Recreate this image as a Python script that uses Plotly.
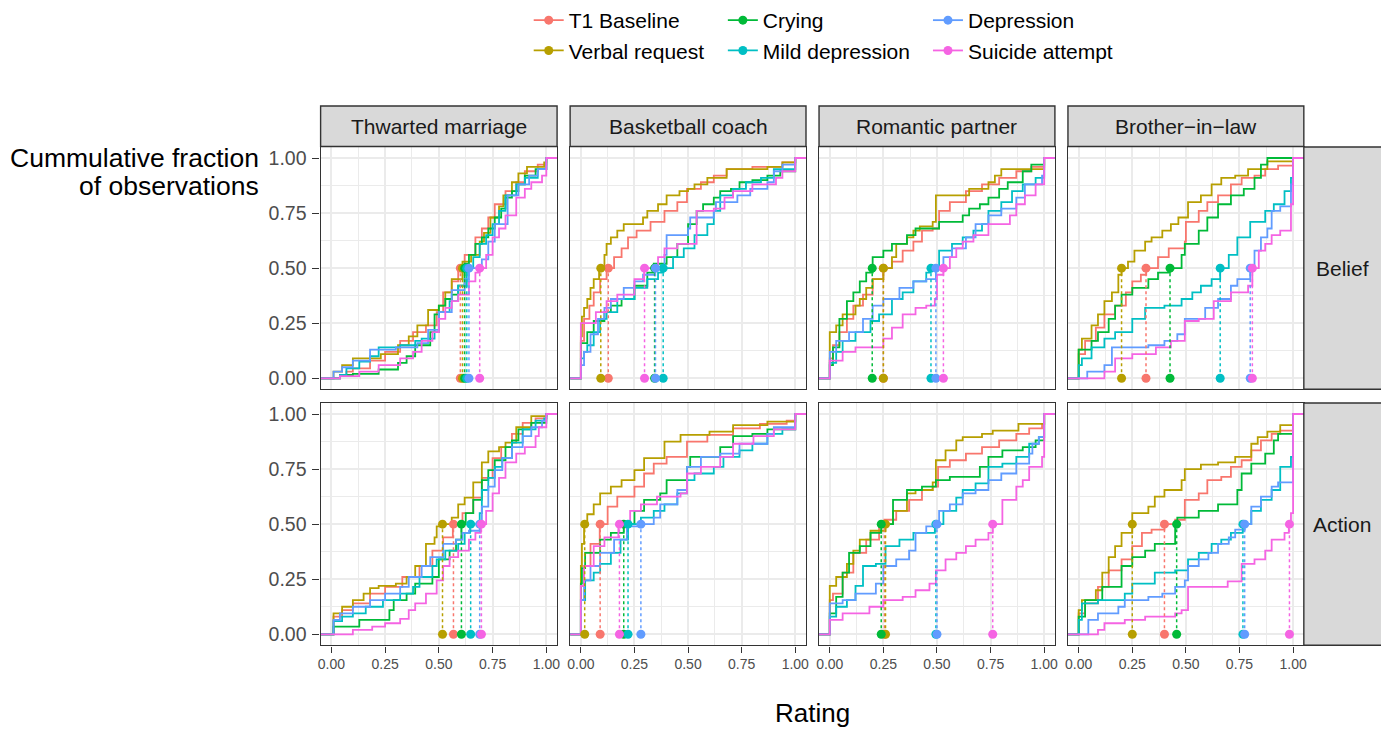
import plotly.graph_objects as go

# ---------------------------------------------------------------- data
SERIES = ["T1 Baseline", "Verbal request", "Crying", "Mild depression", "Depression", "Suicide attempt"]
COLORS = ["#F8766D", "#B79F00", "#00BA38", "#00BFC4", "#619CFF", "#F564E3"]
SCENARIOS = ["Thwarted marriage", "Basketball coach", "Romantic partner", "Brother\u2212in\u2212law"]
MEASURES = ["Belief", "Action"]
TICK_VALUES = [0, 0.25, 0.5, 0.75, 1.0]
TICK_LABELS = ["0.00", "0.25", "0.50", "0.75", "1.00"]
MINOR_VALUES = [0.125, 0.375, 0.625, 0.875]

# ECDF knots (rating, cumulative fraction)
THWARTED_BELIEF = {
    "T1 Baseline": ([0.04, 0.07, 0.10, 0.18, 0.25, 0.32, 0.38, 0.44, 0.49, 0.52, 0.56, 0.59, 0.62, 0.67, 0.70, 0.73, 0.76, 0.81, 0.86, 0.90, 0.96, 1.0],
                    [0.015, 0.03, 0.045, 0.08, 0.12, 0.17, 0.21, 0.24, 0.30, 0.39, 0.44, 0.50, 0.56, 0.64, 0.68, 0.73, 0.79, 0.85, 0.89, 0.94, 0.97, 1.0]),
    "Verbal request": ([0.01, 0.05, 0.10, 0.23, 0.31, 0.36, 0.40, 0.45, 0.50, 0.53, 0.56, 0.61, 0.65, 0.69, 0.71, 0.74, 0.78, 0.80, 0.84, 0.87, 0.91, 0.99, 1.0],
                       [0.03, 0.06, 0.09, 0.11, 0.15, 0.19, 0.24, 0.31, 0.33, 0.39, 0.45, 0.53, 0.56, 0.62, 0.66, 0.73, 0.78, 0.83, 0.89, 0.93, 0.96, 0.98, 1.0]),
    "Crying": ([0.04, 0.10, 0.22, 0.31, 0.35, 0.39, 0.46, 0.48, 0.50, 0.53, 0.56, 0.59, 0.62, 0.64, 0.67, 0.70, 0.73, 0.76, 0.79, 0.81, 0.84, 0.87, 0.90, 0.95, 1.0],
               [0.015, 0.02, 0.04, 0.07, 0.10, 0.15, 0.21, 0.29, 0.33, 0.36, 0.38, 0.42, 0.52, 0.56, 0.61, 0.64, 0.68, 0.73, 0.77, 0.82, 0.85, 0.88, 0.92, 0.95, 1.0]),
    "Mild depression": ([0.04, 0.07, 0.13, 0.18, 0.22, 0.32, 0.39, 0.42, 0.48, 0.50, 0.55, 0.59, 0.63, 0.66, 0.69, 0.72, 0.75, 0.78, 0.81, 0.86, 0.90, 0.96, 1.0],
                        [0.015, 0.045, 0.076, 0.10, 0.14, 0.15, 0.17, 0.18, 0.21, 0.30, 0.35, 0.42, 0.50, 0.55, 0.61, 0.65, 0.70, 0.76, 0.83, 0.88, 0.91, 0.95, 1.0]),
    "Depression": ([0.01, 0.05, 0.10, 0.18, 0.30, 0.40, 0.45, 0.50, 0.56, 0.62, 0.64, 0.70, 0.73, 0.76, 0.82, 0.87, 0.92, 0.96, 1.0],
                   [0.03, 0.05, 0.08, 0.13, 0.14, 0.16, 0.22, 0.30, 0.40, 0.45, 0.50, 0.54, 0.62, 0.70, 0.83, 0.88, 0.92, 0.95, 1.0]),
    "Suicide attempt": ([0.04, 0.13, 0.22, 0.32, 0.38, 0.42, 0.47, 0.50, 0.53, 0.56, 0.59, 0.64, 0.67, 0.69, 0.72, 0.75, 0.78, 0.81, 0.86, 0.90, 0.93, 0.98, 1.0],
                        [0.01, 0.03, 0.06, 0.09, 0.12, 0.17, 0.21, 0.27, 0.32, 0.35, 0.38, 0.44, 0.48, 0.50, 0.56, 0.64, 0.68, 0.74, 0.82, 0.86, 0.89, 0.92, 1.0]),
}
THWARTED_BELIEF_MEDIANS = [0.60, 0.61, 0.62, 0.63, 0.64, 0.69]

BASKETBALL_BELIEF = {
    "T1 Baseline": ([0, 0.015, 0.04, 0.06, 0.09, 0.12, 0.155, 0.19, 0.22, 0.26, 0.325, 0.39, 0.45, 0.495, 0.56, 0.62, 0.68, 0.80, 0.94, 1.0],
                    [0.17, 0.27, 0.33, 0.39, 0.45, 0.50, 0.55, 0.59, 0.64, 0.67, 0.71, 0.76, 0.80, 0.86, 0.89, 0.92, 0.95, 0.96, 0.98, 1.0]),
    "Verbal request": ([0, 0.005, 0.015, 0.03, 0.045, 0.06, 0.085, 0.11, 0.12, 0.14, 0.17, 0.20, 0.29, 0.31, 0.36, 0.40, 0.46, 0.50, 0.53, 0.59, 0.68, 0.87, 0.94, 1.0],
                       [0.19, 0.28, 0.32, 0.36, 0.41, 0.45, 0.50, 0.56, 0.61, 0.64, 0.67, 0.70, 0.73, 0.76, 0.79, 0.83, 0.85, 0.86, 0.88, 0.91, 0.95, 0.96, 0.98, 1.0]),
    "Crying": ([0, 0.03, 0.06, 0.11, 0.14, 0.19, 0.25, 0.31, 0.34, 0.40, 0.45, 0.50, 0.54, 0.57, 0.62, 0.65, 0.70, 0.74, 0.80, 0.87, 0.93, 1.0],
               [0.16, 0.21, 0.26, 0.30, 0.33, 0.36, 0.42, 0.48, 0.52, 0.55, 0.61, 0.70, 0.76, 0.79, 0.82, 0.85, 0.86, 0.89, 0.90, 0.92, 0.94, 1.0]),
    "Mild depression": ([0, 0.015, 0.03, 0.06, 0.09, 0.12, 0.17, 0.25, 0.31, 0.36, 0.385, 0.43, 0.48, 0.53, 0.59, 0.62, 0.65, 0.71, 0.77, 0.84, 0.90, 1.0],
                        [0.09, 0.12, 0.15, 0.21, 0.27, 0.30, 0.36, 0.41, 0.45, 0.48, 0.50, 0.55, 0.59, 0.65, 0.70, 0.76, 0.83, 0.86, 0.89, 0.91, 0.95, 1.0]),
    "Depression": ([0, 0.015, 0.045, 0.08, 0.11, 0.14, 0.20, 0.25, 0.29, 0.345, 0.39, 0.40, 0.50, 0.51, 0.62, 0.63, 0.73, 0.79, 0.87, 0.90, 0.94, 1.0],
                   [0.06, 0.12, 0.20, 0.27, 0.32, 0.36, 0.41, 0.44, 0.47, 0.50, 0.56, 0.65, 0.68, 0.73, 0.76, 0.80, 0.83, 0.86, 0.89, 0.94, 0.97, 1.0]),
    "Suicide attempt": ([0, 0.07, 0.12, 0.17, 0.25, 0.295, 0.36, 0.39, 0.45, 0.54, 0.62, 0.67, 0.71, 0.80, 0.91, 0.94, 1.0],
                        [0.25, 0.30, 0.35, 0.38, 0.45, 0.50, 0.55, 0.59, 0.61, 0.76, 0.77, 0.82, 0.85, 0.88, 0.91, 0.94, 1.0]),
}
BASKETBALL_BELIEF_MEDIANS = [0.128, 0.093, 0.344, 0.384, 0.348, 0.297]

ROMANTIC_BELIEF = {
    "T1 Baseline": ([0, 0.015, 0.045, 0.08, 0.11, 0.155, 0.20, 0.25, 0.29, 0.34, 0.39, 0.43, 0.48, 0.51, 0.56, 0.635, 0.71, 0.79, 0.87, 0.94, 1.0],
                    [0.09, 0.15, 0.21, 0.27, 0.33, 0.38, 0.45, 0.50, 0.53, 0.58, 0.62, 0.67, 0.68, 0.76, 0.80, 0.85, 0.88, 0.91, 0.94, 0.96, 1.0]),
    "Verbal request": ([0, 0.03, 0.06, 0.12, 0.14, 0.17, 0.20, 0.25, 0.29, 0.31, 0.36, 0.39, 0.42, 0.48, 0.495, 0.65, 0.74, 0.77, 0.80, 1.0],
                       [0.21, 0.24, 0.29, 0.33, 0.36, 0.41, 0.45, 0.50, 0.55, 0.61, 0.64, 0.67, 0.69, 0.71, 0.83, 0.86, 0.89, 0.92, 0.95, 1.0]),
    "Crying": ([0, 0.015, 0.045, 0.08, 0.11, 0.14, 0.17, 0.20, 0.25, 0.29, 0.36, 0.40, 0.51, 0.62, 0.65, 0.70, 0.74, 0.79, 0.83, 0.90, 0.94, 1.0],
               [0.06, 0.14, 0.27, 0.35, 0.39, 0.44, 0.48, 0.55, 0.58, 0.61, 0.65, 0.68, 0.71, 0.74, 0.77, 0.79, 0.82, 0.86, 0.89, 0.94, 0.97, 1.0]),
    "Mild depression": ([0, 0.03, 0.06, 0.12, 0.19, 0.23, 0.29, 0.34, 0.39, 0.45, 0.47, 0.51, 0.57, 0.62, 0.67, 0.71, 0.74, 0.80, 0.85, 0.90, 0.96, 1.0],
                        [0.07, 0.12, 0.17, 0.21, 0.26, 0.29, 0.36, 0.39, 0.44, 0.48, 0.50, 0.58, 0.61, 0.64, 0.67, 0.70, 0.76, 0.80, 0.85, 0.88, 0.91, 1.0]),
    "Depression": ([0, 0.03, 0.09, 0.155, 0.20, 0.25, 0.325, 0.39, 0.45, 0.495, 0.53, 0.57, 0.635, 0.68, 0.74, 0.80, 0.87, 0.91, 0.99, 1.0],
                   [0.12, 0.17, 0.21, 0.27, 0.33, 0.36, 0.41, 0.44, 0.45, 0.50, 0.55, 0.59, 0.64, 0.70, 0.74, 0.77, 0.82, 0.88, 0.92, 1.0]),
    "Suicide attempt": ([0, 0.06, 0.12, 0.25, 0.29, 0.34, 0.40, 0.45, 0.49, 0.50, 0.53, 0.56, 0.59, 0.62, 0.67, 0.74, 0.84, 0.87, 0.91, 0.96, 1.0],
                        [0.08, 0.12, 0.14, 0.18, 0.23, 0.29, 0.32, 0.33, 0.36, 0.47, 0.50, 0.55, 0.59, 0.62, 0.65, 0.70, 0.74, 0.79, 0.83, 0.88, 1.0]),
}
ROMANTIC_BELIEF_MEDIANS = [0.25, 0.25, 0.198, 0.472, 0.495, 0.53]

BROTHER_BELIEF = {
    "T1 Baseline": ([0, 0.03, 0.08, 0.12, 0.17, 0.22, 0.25, 0.29, 0.315, 0.37, 0.42, 0.495, 0.50, 0.56, 0.60, 0.65, 0.71, 0.76, 0.82, 0.87, 0.93, 1.0],
                    [0.11, 0.17, 0.23, 0.29, 0.33, 0.39, 0.44, 0.47, 0.50, 0.55, 0.59, 0.62, 0.71, 0.76, 0.80, 0.83, 0.88, 0.91, 0.92, 0.95, 0.965, 1.0]),
    "Verbal request": ([0, 0.015, 0.06, 0.09, 0.12, 0.155, 0.185, 0.20, 0.23, 0.26, 0.31, 0.34, 0.39, 0.43, 0.465, 0.51, 0.57, 0.62, 0.665, 0.73, 0.79, 0.88, 1.0],
                       [0.13, 0.18, 0.24, 0.29, 0.35, 0.39, 0.47, 0.50, 0.53, 0.58, 0.62, 0.64, 0.67, 0.70, 0.73, 0.80, 0.83, 0.88, 0.91, 0.92, 0.95, 0.985, 1.0]),
    "Crying": ([0, 0.06, 0.09, 0.14, 0.17, 0.20, 0.25, 0.325, 0.37, 0.425, 0.48, 0.495, 0.56, 0.60, 0.65, 0.71, 0.77, 0.82, 0.85, 0.88],
               [0.13, 0.17, 0.21, 0.27, 0.33, 0.38, 0.41, 0.45, 0.48, 0.50, 0.56, 0.61, 0.67, 0.73, 0.79, 0.83, 0.86, 0.91, 0.97, 1.0]),
    "Mild depression": ([0, 0.015, 0.06, 0.12, 0.17, 0.25, 0.31, 0.40, 0.48, 0.53, 0.57, 0.62, 0.66, 0.70, 0.74, 0.80, 0.87, 0.91, 0.96, 0.99, 1.0],
                        [0.06, 0.09, 0.14, 0.18, 0.21, 0.27, 0.32, 0.33, 0.36, 0.39, 0.42, 0.45, 0.50, 0.56, 0.64, 0.71, 0.76, 0.79, 0.85, 0.91, 1.0]),
    "Depression": ([0.04, 0.12, 0.155, 0.325, 0.40, 0.46, 0.495, 0.59, 0.65, 0.71, 0.74, 0.80, 0.82, 0.85, 0.88, 0.90, 0.94, 0.99, 1.0],
                   [0.03, 0.06, 0.14, 0.15, 0.17, 0.20, 0.27, 0.32, 0.36, 0.42, 0.45, 0.50, 0.58, 0.64, 0.68, 0.76, 0.78, 0.88, 1.0]),
    "Suicide attempt": ([0.12, 0.17, 0.25, 0.36, 0.43, 0.495, 0.56, 0.63, 0.71, 0.79, 0.81, 0.84, 0.87, 0.90, 0.94, 0.99, 1.0],
                        [0.03, 0.09, 0.11, 0.14, 0.17, 0.26, 0.27, 0.35, 0.39, 0.42, 0.50, 0.58, 0.61, 0.65, 0.67, 0.79, 1.0]),
}
BROTHER_BELIEF_MEDIANS = [0.314, 0.20, 0.426, 0.66, 0.80, 0.81]

THWARTED_ACTION = {
    "T1 Baseline": ([0.01, 0.05, 0.10, 0.18, 0.25, 0.33, 0.41, 0.47, 0.52, 0.565, 0.61, 0.66, 0.70, 0.75, 0.79, 0.84, 0.89, 0.95, 1.0],
                    [0.08, 0.11, 0.14, 0.185, 0.215, 0.26, 0.31, 0.38, 0.44, 0.50, 0.55, 0.62, 0.71, 0.80, 0.85, 0.91, 0.96, 0.98, 1.0]),
    "Verbal request": ([0.01, 0.05, 0.10, 0.15, 0.18, 0.22, 0.30, 0.35, 0.39, 0.44, 0.48, 0.49, 0.515, 0.56, 0.59, 0.62, 0.66, 0.70, 0.73, 0.78, 0.81, 0.86, 0.93, 1.0],
                       [0.095, 0.125, 0.155, 0.185, 0.21, 0.22, 0.23, 0.26, 0.31, 0.41, 0.44, 0.49, 0.50, 0.53, 0.59, 0.62, 0.69, 0.78, 0.83, 0.85, 0.87, 0.94, 0.99, 1.0]),
    "Crying": ([0.01, 0.13, 0.27, 0.29, 0.35, 0.39, 0.47, 0.50, 0.55, 0.58, 0.605, 0.625, 0.66, 0.70, 0.73, 0.76, 0.81, 0.84, 0.87, 0.93, 1.0],
               [0.035, 0.065, 0.11, 0.155, 0.185, 0.23, 0.26, 0.34, 0.38, 0.43, 0.50, 0.55, 0.61, 0.70, 0.745, 0.79, 0.85, 0.88, 0.93, 0.96, 1.0]),
    "Mild depression": ([0.01, 0.05, 0.10, 0.16, 0.24, 0.32, 0.38, 0.41, 0.47, 0.49, 0.53, 0.59, 0.62, 0.645, 0.69, 0.70, 0.73, 0.76, 0.795, 0.84, 0.89, 0.95, 0.99, 1.0],
                        [0.06, 0.08, 0.095, 0.125, 0.155, 0.185, 0.215, 0.26, 0.31, 0.34, 0.38, 0.41, 0.46, 0.50, 0.55, 0.655, 0.71, 0.76, 0.80, 0.87, 0.93, 0.97, 0.98, 1.0]),
    "Depression": ([0.01, 0.04, 0.10, 0.18, 0.25, 0.32, 0.36, 0.42, 0.46, 0.52, 0.58, 0.61, 0.64, 0.69, 0.70, 0.73, 0.76, 0.795, 0.84, 0.89, 0.93, 0.98, 1.0],
                   [0.065, 0.095, 0.125, 0.155, 0.185, 0.215, 0.26, 0.31, 0.35, 0.41, 0.43, 0.46, 0.47, 0.50, 0.58, 0.67, 0.745, 0.80, 0.85, 0.90, 0.94, 0.97, 1.0]),
    "Suicide attempt": ([0.10, 0.19, 0.25, 0.32, 0.36, 0.39, 0.44, 0.49, 0.52, 0.55, 0.59, 0.64, 0.67, 0.695, 0.72, 0.75, 0.78, 0.81, 0.86, 0.90, 0.95, 0.965, 1.0],
                        [0.02, 0.035, 0.05, 0.07, 0.11, 0.14, 0.185, 0.245, 0.31, 0.35, 0.38, 0.43, 0.46, 0.50, 0.56, 0.64, 0.71, 0.78, 0.82, 0.85, 0.90, 0.94, 1.0]),
}
THWARTED_ACTION_MEDIANS = [0.568, 0.517, 0.605, 0.648, 0.69, 0.698]

BASKETBALL_ACTION = {
    "T1 Baseline": ([0, 0.015, 0.045, 0.088, 0.125, 0.17, 0.25, 0.295, 0.34, 0.40, 0.495, 0.59, 0.71, 0.835, 0.96, 1.0],
                    [0.22, 0.31, 0.41, 0.50, 0.58, 0.625, 0.67, 0.73, 0.775, 0.805, 0.875, 0.905, 0.935, 0.955, 0.97, 1.0]),
    "Verbal request": ([0, 0.005, 0.015, 0.03, 0.06, 0.09, 0.14, 0.19, 0.25, 0.295, 0.39, 0.465, 0.60, 0.71, 0.87, 1.0],
                       [0.31, 0.41, 0.50, 0.545, 0.59, 0.64, 0.67, 0.70, 0.745, 0.80, 0.875, 0.905, 0.92, 0.95, 0.965, 1.0]),
    "Crying": ([0, 0.005, 0.02, 0.09, 0.14, 0.20, 0.25, 0.295, 0.37, 0.40, 0.495, 0.51, 0.65, 0.71, 0.80, 0.87, 1.0],
               [0.23, 0.30, 0.37, 0.43, 0.46, 0.50, 0.56, 0.61, 0.64, 0.70, 0.76, 0.805, 0.85, 0.90, 0.91, 0.93, 1.0]),
    "Mild depression": ([0, 0.02, 0.06, 0.09, 0.14, 0.185, 0.22, 0.28, 0.34, 0.39, 0.45, 0.495, 0.53, 0.62, 0.665, 0.74, 0.80, 0.87, 0.94, 1.0],
                        [0.155, 0.245, 0.28, 0.32, 0.37, 0.43, 0.50, 0.53, 0.56, 0.59, 0.64, 0.70, 0.73, 0.76, 0.805, 0.835, 0.865, 0.91, 0.93, 1.0]),
    "Depression": ([0, 0.015, 0.045, 0.09, 0.155, 0.215, 0.28, 0.34, 0.37, 0.45, 0.495, 0.56, 0.65, 0.74, 0.87, 0.90, 1.0],
                   [0.155, 0.245, 0.31, 0.37, 0.43, 0.49, 0.50, 0.53, 0.59, 0.655, 0.76, 0.805, 0.82, 0.865, 0.91, 0.94, 1.0]),
    "Suicide attempt": ([0, 0.015, 0.06, 0.11, 0.175, 0.23, 0.28, 0.355, 0.465, 0.495, 0.56, 0.65, 0.71, 0.805, 0.90, 1.0],
                        [0.22, 0.31, 0.40, 0.44, 0.50, 0.56, 0.59, 0.625, 0.64, 0.73, 0.76, 0.805, 0.865, 0.90, 0.93, 1.0]),
}
BASKETBALL_ACTION_MEDIANS = [0.09, 0.018, 0.20, 0.22, 0.28, 0.18]

ROMANTIC_ACTION = {
    "T1 Baseline": ([0, 0.015, 0.06, 0.11, 0.17, 0.23, 0.255, 0.31, 0.37, 0.43, 0.48, 0.505, 0.56, 0.635, 0.71, 0.79, 0.87, 0.93, 0.99, 1.0],
                    [0.155, 0.185, 0.28, 0.37, 0.43, 0.49, 0.52, 0.56, 0.61, 0.655, 0.67, 0.76, 0.79, 0.82, 0.85, 0.88, 0.91, 0.935, 0.955, 1.0]),
    "Verbal request": ([0, 0.03, 0.08, 0.11, 0.14, 0.19, 0.26, 0.295, 0.36, 0.40, 0.48, 0.495, 0.54, 0.59, 0.62, 0.71, 0.76, 0.88, 1.0],
                       [0.22, 0.26, 0.32, 0.38, 0.43, 0.47, 0.50, 0.56, 0.64, 0.655, 0.69, 0.79, 0.835, 0.88, 0.895, 0.91, 0.925, 0.955, 1.0]),
    "Crying": ([0, 0.03, 0.06, 0.09, 0.14, 0.19, 0.24, 0.295, 0.36, 0.43, 0.495, 0.56, 0.70, 0.74, 0.805, 0.90, 0.96, 1.0],
               [0.095, 0.17, 0.28, 0.37, 0.40, 0.46, 0.50, 0.61, 0.655, 0.67, 0.70, 0.715, 0.76, 0.805, 0.835, 0.85, 0.88, 1.0]),
    "Mild depression": ([0, 0.03, 0.08, 0.12, 0.155, 0.215, 0.26, 0.325, 0.39, 0.49, 0.53, 0.59, 0.62, 0.68, 0.74, 0.805, 0.87, 0.93, 0.975, 1.0],
                        [0.08, 0.125, 0.155, 0.22, 0.31, 0.32, 0.40, 0.43, 0.46, 0.50, 0.56, 0.62, 0.655, 0.685, 0.76, 0.775, 0.805, 0.865, 0.895, 1.0]),
    "Depression": ([0, 0.06, 0.12, 0.215, 0.25, 0.31, 0.37, 0.40, 0.45, 0.495, 0.51, 0.56, 0.62, 0.68, 0.74, 0.80, 0.87, 0.93, 0.945, 0.975, 1.0],
                   [0.14, 0.155, 0.185, 0.23, 0.31, 0.34, 0.38, 0.46, 0.49, 0.50, 0.56, 0.59, 0.64, 0.655, 0.70, 0.73, 0.775, 0.82, 0.865, 0.895, 1.0]),
    "Suicide attempt": ([0, 0.06, 0.185, 0.25, 0.34, 0.40, 0.465, 0.495, 0.54, 0.59, 0.635, 0.68, 0.74, 0.76, 0.805, 0.87, 0.90, 0.93, 0.99, 1.0],
                        [0.065, 0.095, 0.125, 0.155, 0.17, 0.20, 0.23, 0.29, 0.34, 0.37, 0.40, 0.43, 0.46, 0.50, 0.61, 0.67, 0.70, 0.76, 0.805, 1.0]),
}
ROMANTIC_ACTION_MEDIANS = [0.255, 0.26, 0.24, 0.495, 0.50, 0.76]

BROTHER_ACTION = {
    "T1 Baseline": ([0, 0.03, 0.09, 0.14, 0.20, 0.25, 0.295, 0.34, 0.40, 0.45, 0.495, 0.56, 0.60, 0.665, 0.71, 0.76, 0.805, 0.85, 0.90, 0.94, 1.0],
                    [0.095, 0.14, 0.215, 0.29, 0.34, 0.40, 0.46, 0.475, 0.50, 0.52, 0.61, 0.64, 0.70, 0.715, 0.76, 0.79, 0.835, 0.88, 0.91, 0.925, 1.0]),
    "Verbal request": ([0, 0.015, 0.08, 0.11, 0.14, 0.17, 0.20, 0.25, 0.325, 0.355, 0.40, 0.48, 0.495, 0.57, 0.65, 0.73, 0.805, 0.835, 0.88, 0.94, 1.0],
                       [0.11, 0.155, 0.20, 0.28, 0.35, 0.40, 0.46, 0.55, 0.58, 0.625, 0.655, 0.70, 0.75, 0.77, 0.78, 0.805, 0.865, 0.895, 0.92, 0.95, 1.0]),
    "Crying": ([0, 0.03, 0.11, 0.20, 0.25, 0.31, 0.355, 0.45, 0.46, 0.56, 0.65, 0.74, 0.76, 0.805, 0.87, 0.91, 0.93, 1.0],
               [0.08, 0.155, 0.215, 0.31, 0.35, 0.38, 0.41, 0.49, 0.53, 0.56, 0.59, 0.655, 0.73, 0.775, 0.82, 0.88, 0.91, 1.0]),
    "Mild depression": ([0, 0.015, 0.09, 0.215, 0.25, 0.355, 0.45, 0.51, 0.56, 0.62, 0.665, 0.71, 0.765, 0.805, 0.85, 0.90, 0.94, 0.99, 1.0],
                        [0.065, 0.14, 0.155, 0.185, 0.23, 0.28, 0.29, 0.34, 0.37, 0.41, 0.43, 0.46, 0.50, 0.56, 0.61, 0.655, 0.76, 0.805, 1.0]),
    "Depression": ([0.045, 0.09, 0.185, 0.215, 0.325, 0.39, 0.45, 0.495, 0.51, 0.56, 0.605, 0.65, 0.70, 0.73, 0.775, 0.805, 0.85, 0.90, 0.93, 1.0],
                   [0.065, 0.095, 0.125, 0.155, 0.17, 0.185, 0.215, 0.245, 0.31, 0.34, 0.37, 0.41, 0.44, 0.475, 0.50, 0.58, 0.625, 0.67, 0.69, 1.0]),
    "Suicide attempt": ([0.09, 0.12, 0.215, 0.31, 0.45, 0.48, 0.51, 0.695, 0.76, 0.82, 0.87, 0.90, 0.96, 0.98, 0.99, 1.0],
                        [0.02, 0.05, 0.065, 0.08, 0.095, 0.11, 0.215, 0.24, 0.32, 0.34, 0.38, 0.43, 0.46, 0.50, 0.55, 1.0]),
}
BROTHER_ACTION_MEDIANS = [0.40, 0.25, 0.457, 0.766, 0.774, 0.983]

PANELS = {
    ("Belief", 0): (THWARTED_BELIEF, THWARTED_BELIEF_MEDIANS),
    ("Belief", 1): (BASKETBALL_BELIEF, BASKETBALL_BELIEF_MEDIANS),
    ("Belief", 2): (ROMANTIC_BELIEF, ROMANTIC_BELIEF_MEDIANS),
    ("Belief", 3): (BROTHER_BELIEF, BROTHER_BELIEF_MEDIANS),
    ("Action", 0): (THWARTED_ACTION, THWARTED_ACTION_MEDIANS),
    ("Action", 1): (BASKETBALL_ACTION, BASKETBALL_ACTION_MEDIANS),
    ("Action", 2): (ROMANTIC_ACTION, ROMANTIC_ACTION_MEDIANS),
    ("Action", 3): (BROTHER_ACTION, BROTHER_ACTION_MEDIANS),
}

# ---------------------------------------------------------------- layout geometry (pixels)
W, H = 1381, 729
COL_PX = [(319, 556.5), (569.6, 806.5), (819.6, 1056.5), (1069.6, 1306.5)]
ROW_PX = [(147, 389.3), (403, 645.3)]
STRIP_TOP = (106, 146.5)
STRIP_RIGHT = (1306.5, 1381)
XR = [-0.05, 1.05]
YR = [-0.05, 1.05]
FONT = "Liberation Sans, Arial, Helvetica, sans-serif"
BORDER = "#333333"
GRID = "#EBEBEB"


def px_x(p):
    return p / W


def px_y(p):
    return 1 - p / H


fig = go.Figure()
layout = dict(
    width=W, height=H, autosize=False,
    margin=dict(l=0, r=0, t=0, b=0),
    paper_bgcolor="white", plot_bgcolor="white",
    font=dict(family=FONT, color="black"),
    showlegend=True,
)

for r, measure in enumerate(MEASURES):
    for c in range(len(SCENARIOS)):
        k = r * 4 + c + 1
        xname = "x" if k == 1 else f"x{k}"
        yname = "y" if k == 1 else f"y{k}"
        bottom = r == len(MEASURES) - 1
        left = c == 0
        layout["xaxis" if k == 1 else f"xaxis{k}"] = dict(
            domain=[px_x(COL_PX[c][0]), px_x(COL_PX[c][1])], anchor=yname,
            range=XR, tickmode="array", tickvals=TICK_VALUES, ticktext=TICK_LABELS,
            showticklabels=bottom, ticks="outside" if bottom else "", ticklen=6, tickwidth=1.3,
            tickcolor=BORDER, tickfont=dict(size=14, color="#4D4D4D", family=FONT),
            showgrid=True, gridcolor=GRID, gridwidth=1.8,
            minor=dict(tickmode="array", tickvals=MINOR_VALUES, showgrid=True, gridcolor=GRID, gridwidth=0.9, ticks=""),
            zeroline=False, showline=True, mirror=True, linecolor=BORDER, linewidth=1.4,
            fixedrange=True,
        )
        layout["yaxis" if k == 1 else f"yaxis{k}"] = dict(
            domain=[px_y(ROW_PX[r][1]), px_y(ROW_PX[r][0])], anchor=xname,
            range=YR, tickmode="array", tickvals=TICK_VALUES, ticktext=TICK_LABELS,
            showticklabels=left, ticks="outside" if left else "", ticklen=7, tickwidth=1.3,
            tickcolor=BORDER, tickfont=dict(size=19.5, color="#4D4D4D", family=FONT),
            ticklabelstandoff=2,
            showgrid=True, gridcolor=GRID, gridwidth=1.8,
            minor=dict(tickmode="array", tickvals=MINOR_VALUES, showgrid=True, gridcolor=GRID, gridwidth=0.9, ticks=""),
            zeroline=False, showline=True, mirror=True, linecolor=BORDER, linewidth=1.4,
            fixedrange=True,
        )

        data, medians = PANELS[(measure, c)]
        # ECDF step curves, padded to the panel edges like stat_ecdf(pad = TRUE)
        for s, name in enumerate(SERIES):
            xs, ys = data[name]
            fig.add_trace(go.Scatter(
                x=[XR[0]] + list(xs) + [XR[1]], y=[0] + list(ys) + [ys[-1]],
                mode="lines", line=dict(color=COLORS[s], width=1.8, shape="hv"),
                xaxis=xname, yaxis=yname, showlegend=False, hoverinfo="skip",
            ))
        # dotted median drop lines
        for s, name in enumerate(SERIES):
            fig.add_trace(go.Scatter(
                x=[medians[s], medians[s]], y=[0, 0.5], mode="lines",
                line=dict(color=COLORS[s], width=1.5, dash="dot"),
                xaxis=xname, yaxis=yname, showlegend=False, hoverinfo="skip",
            ))
        # median points
        for s, name in enumerate(SERIES):
            fig.add_trace(go.Scatter(
                x=[medians[s], medians[s]], y=[0, 0.5], mode="markers",
                marker=dict(color=COLORS[s], size=9),
                xaxis=xname, yaxis=yname, showlegend=False, hoverinfo="skip",
            ))

# legend entries (three columns of two, filled column-wise)
LEGEND_COLS = ["legend", "legend2", "legend3"]
LEGEND_TEXT_X = [570, 765, 971]
for s, name in enumerate(SERIES):
    fig.add_trace(go.Scatter(
        x=[None], y=[None], mode="lines+markers", name=name,
        line=dict(color=COLORS[s], width=1.8), marker=dict(color=COLORS[s], size=9),
        legend=LEGEND_COLS[s // 2], legendgroup=name, xaxis="x", yaxis="y",
    ))
for i, lg in enumerate(LEGEND_COLS):
    layout[lg] = dict(
        x=px_x(LEGEND_TEXT_X[i] - 42), y=px_y(0), xanchor="left", yanchor="top",
        orientation="v", bgcolor="rgba(0,0,0,0)", borderwidth=0,
        font=dict(size=21, family=FONT, color="black"), tracegroupgap=0,
        itemwidth=30,
    )

# facet strips
shapes = []
annotations = []
for c, scen in enumerate(SCENARIOS):
    shapes.append(dict(type="rect", xref="paper", yref="paper",
                       x0=px_x(COL_PX[c][0]), x1=px_x(COL_PX[c][1]),
                       y0=px_y(STRIP_TOP[1]), y1=px_y(STRIP_TOP[0]),
                       fillcolor="#D9D9D9", line=dict(color=BORDER, width=1.4)))
    annotations.append(dict(text=scen, xref="paper", yref="paper",
                            x=px_x((COL_PX[c][0] + COL_PX[c][1]) / 2), y=px_y((STRIP_TOP[0] + STRIP_TOP[1]) / 2),
                            xanchor="center", yanchor="middle", showarrow=False,
                            font=dict(size=21, color="#1A1A1A", family=FONT)))
for r, measure in enumerate(MEASURES):
    shapes.append(dict(type="rect", xref="paper", yref="paper",
                       x0=px_x(STRIP_RIGHT[0]), x1=px_x(STRIP_RIGHT[1]) + 0.01,
                       y0=px_y(ROW_PX[r][1]), y1=px_y(ROW_PX[r][0]),
                       fillcolor="#D9D9D9", line=dict(color=BORDER, width=1.4)))
    annotations.append(dict(text=measure, xref="paper", yref="paper",
                            x=px_x(1345), y=px_y((ROW_PX[r][0] + ROW_PX[r][1]) / 2),
                            xanchor="center", yanchor="middle", showarrow=False,
                            font=dict(size=21, color="#1A1A1A", family=FONT)))

# axis titles
annotations.append(dict(text="Cummulative fraction", xref="paper", yref="paper",
                        x=px_x(259), y=px_y(158), xanchor="right", yanchor="middle",
                        showarrow=False, font=dict(size=26.5, color="black", family=FONT)))
annotations.append(dict(text="of observations", xref="paper", yref="paper",
                        x=px_x(259), y=px_y(186), xanchor="right", yanchor="middle",
                        showarrow=False, font=dict(size=26.5, color="black", family=FONT)))
annotations.append(dict(text="Rating", xref="paper", yref="paper",
                        x=px_x((COL_PX[0][0] + COL_PX[3][1]) / 2), y=px_y(713),
                        xanchor="center", yanchor="middle",
                        showarrow=False, font=dict(size=26, color="black", family=FONT)))

layout["shapes"] = shapes
layout["annotations"] = annotations
fig.update_layout(**layout)
# the default page adds an 8px body margin; remove it so the figure fills the window
fig.write_html("out.html", config={"displayModeBar": False},
               post_script="document.body.style.margin='0px';")
